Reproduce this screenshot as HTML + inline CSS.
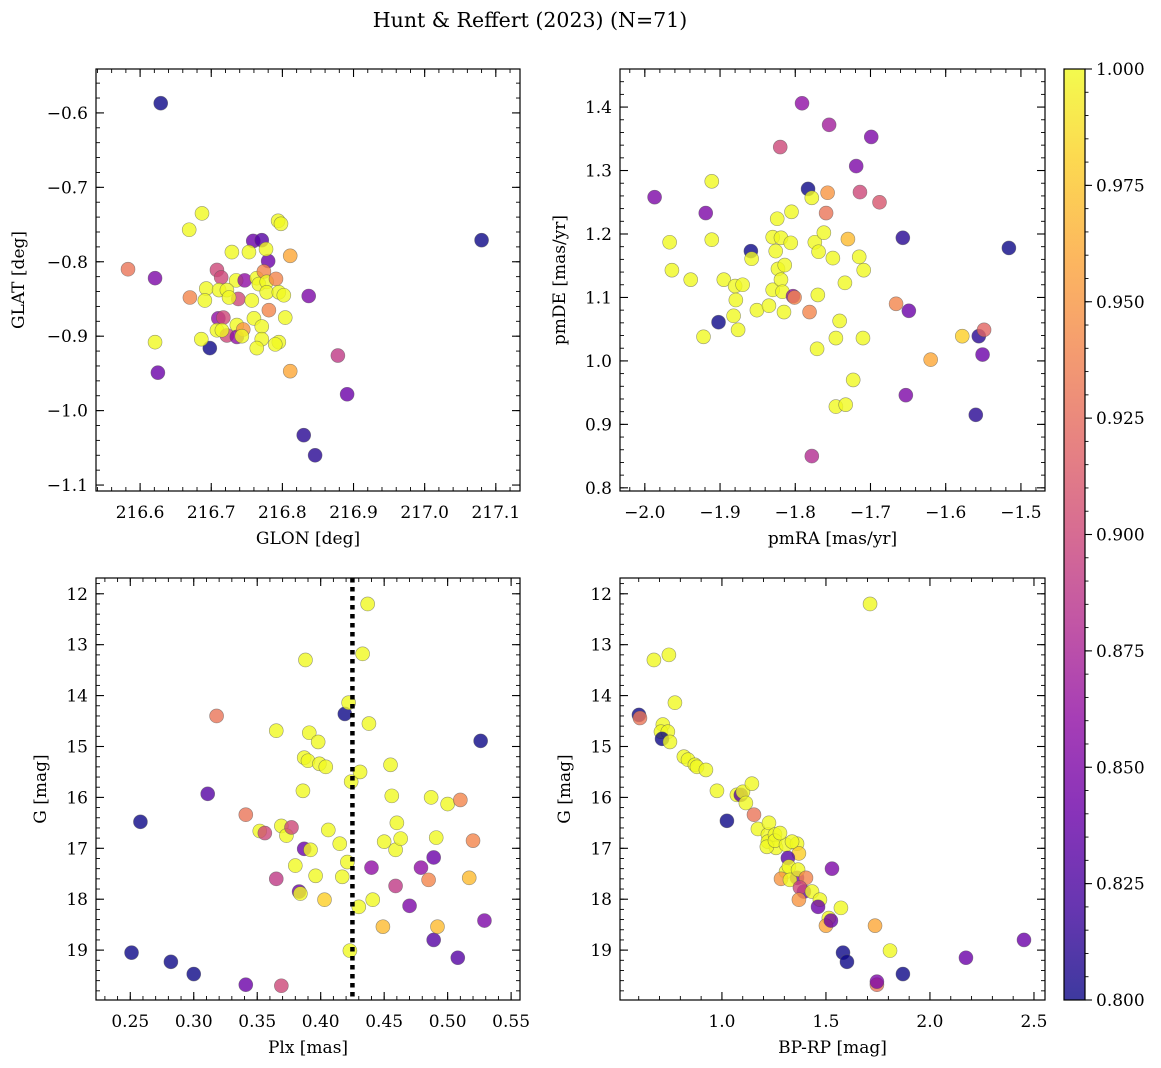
<!DOCTYPE html>
<html><head><meta charset="utf-8">
<style>
html,body{margin:0;padding:0;background:#fff;}
svg{display:block;font-family:"DejaVu Serif","Liberation Serif",serif;}
</style></head>
<body>
<svg id="fig" width="1161" height="1068" viewBox="0 0 1161 1068" xmlns="http://www.w3.org/2000/svg">
<defs>
<linearGradient id="cbgrad" x1="0" y1="1" x2="0" y2="0">
<stop offset="0" stop-color="#0d0887"/><stop offset="0.1" stop-color="#41049d"/><stop offset="0.2" stop-color="#6a00a8"/><stop offset="0.3" stop-color="#8f0da4"/><stop offset="0.4" stop-color="#b12a90"/><stop offset="0.5" stop-color="#cc4778"/><stop offset="0.6" stop-color="#e16462"/><stop offset="0.7" stop-color="#f2844b"/><stop offset="0.8" stop-color="#fca636"/><stop offset="0.9" stop-color="#fcce25"/><stop offset="1" stop-color="#f0f921"/>
</linearGradient>
</defs>
<text x="530" y="27" font-size="20.5" text-anchor="middle">Hunt &amp; Reffert (2023) (N=71)</text>
</svg>
<script>
// ---- Panel 1: GLON vs GLAT ----
const glon=[216.629,217.080,216.583,216.621,216.670,216.621,216.625,216.698,216.669,216.687,216.686,216.830,216.846,216.891,216.878,216.837,216.811,216.811,216.794,216.798,216.759,216.771,216.780,216.777,216.729,216.753,216.708,216.714,216.735,216.747,216.764,216.767,216.774,216.778,216.791,216.693,216.711,216.722,216.691,216.738,216.757,216.778,216.795,216.802,216.781,216.760,216.771,216.804,216.710,216.717,216.708,216.722,216.736,216.736,216.745,216.715,216.743,216.771,216.764,216.795,216.790,216.725];
const glat=[-0.587,-0.771,-0.810,-0.822,-0.848,-0.908,-0.949,-0.916,-0.757,-0.735,-0.904,-1.033,-1.060,-0.978,-0.926,-0.846,-0.947,-0.792,-0.745,-0.749,-0.772,-0.771,-0.799,-0.783,-0.787,-0.787,-0.811,-0.821,-0.825,-0.825,-0.822,-0.830,-0.813,-0.827,-0.823,-0.836,-0.838,-0.838,-0.852,-0.850,-0.852,-0.841,-0.841,-0.845,-0.865,-0.876,-0.887,-0.875,-0.876,-0.875,-0.892,-0.899,-0.885,-0.901,-0.891,-0.892,-0.900,-0.904,-0.916,-0.908,-0.911,-0.848];
const prob1=[0.80,0.80,0.93,0.85,0.94,1.0,0.84,0.80,1.0,1.0,1.0,0.81,0.81,0.84,0.89,0.85,0.96,0.96,1.0,1.0,0.84,0.83,0.84,1.0,1.0,1.0,0.90,0.90,1.0,0.86,1.0,1.0,0.94,1.0,0.94,1.0,1.0,1.0,1.0,0.90,1.0,1.0,1.0,1.0,0.94,1.0,1.0,1.0,0.86,0.90,1.0,0.90,1.0,0.86,0.95,1.0,1.0,1.0,1.0,1.0,1.0,1.0];
// ---- Panel 2: pmRA vs pmDE ----
const pmra=[-1.987,-1.967,-1.964,-1.939,-1.922,-1.911,-1.911,-1.895,-1.919,-1.902,-1.880,-1.879,-1.882,-1.876,-1.870,-1.859,-1.858,-1.851,-1.835,-1.830,-1.830,-1.824,-1.826,-1.823,-1.819,-1.817,-1.815,-1.820,-1.819,-1.814,-1.806,-1.805,-1.803,-1.801,-1.791,-1.783,-1.778,-1.781,-1.778,-1.774,-1.770,-1.771,-1.769,-1.762,-1.759,-1.757,-1.755,-1.750,-1.746,-1.746,-1.741,-1.734,-1.733,-1.730,-1.723,-1.719,-1.715,-1.714,-1.710,-1.709,-1.699,-1.688,-1.666,-1.657,-1.653,-1.649,-1.620,-1.578,-1.560,-1.556,-1.551,-1.549,-1.516];
const pmde=[1.258,1.187,1.143,1.128,1.038,1.283,1.191,1.128,1.233,1.061,1.118,1.096,1.071,1.049,1.120,1.173,1.161,1.080,1.087,1.112,1.195,1.224,1.173,1.145,1.128,1.109,1.077,1.337,1.194,1.151,1.186,1.235,1.102,1.100,1.406,1.271,1.257,1.077,0.850,1.187,1.104,1.019,1.172,1.202,1.233,1.265,1.372,1.162,1.036,0.928,1.063,1.123,0.931,1.192,0.970,1.307,1.164,1.266,1.036,1.143,1.353,1.250,1.090,1.194,0.946,1.079,1.002,1.039,0.915,1.039,1.010,1.049,1.178];
const prob2=[0.85,1.0,1.0,1.0,1.0,1.0,1.0,1.0,0.85,0.80,1.0,1.0,1.0,1.0,1.0,0.80,1.0,1.0,1.0,1.0,1.0,1.0,1.0,1.0,1.0,1.0,1.0,0.90,1.0,1.0,1.0,1.0,0.86,0.94,0.86,0.80,1.0,0.94,0.88,1.0,1.0,1.0,1.0,1.0,0.93,0.95,0.87,1.0,1.0,1.0,1.0,1.0,1.0,0.97,1.0,0.85,1.0,0.90,1.0,1.0,0.85,0.91,0.94,0.81,0.85,0.84,0.96,0.98,0.81,0.81,0.84,0.92,0.80];
// ---- Panel 3: Plx vs G ----
const plx=[0.251,0.258,0.282,0.300,0.311,0.318,0.341,0.341,0.352,0.356,0.365,0.365,0.369,0.369,0.373,0.377,0.380,0.383,0.384,0.386,0.387,0.387,0.388,0.390,0.391,0.392,0.396,0.398,0.399,0.404,0.403,0.406,0.415,0.417,0.419,0.421,0.423,0.422,0.424,0.430,0.431,0.433,0.437,0.438,0.440,0.441,0.449,0.450,0.455,0.456,0.459,0.460,0.459,0.463,0.470,0.479,0.485,0.487,0.489,0.489,0.491,0.492,0.500,0.510,0.508,0.517,0.520,0.526,0.529];
const gmag3=[19.05,16.48,19.23,19.47,15.93,14.40,19.68,16.34,16.66,16.70,17.60,14.69,19.70,16.56,16.75,16.59,17.34,17.85,17.89,15.87,17.01,15.22,13.30,15.28,14.73,17.03,17.54,14.91,15.34,15.40,18.01,16.64,16.91,17.56,14.36,17.27,19.01,14.14,15.69,18.15,15.50,13.18,12.20,14.55,17.38,18.01,18.54,16.87,15.36,15.97,17.03,16.50,17.74,16.81,18.13,17.38,17.62,16.00,17.18,18.80,16.79,18.54,16.13,16.05,19.15,17.58,16.85,14.89,18.42];
const prob3=[0.80,0.80,0.80,0.80,0.83,0.93,0.84,0.93,1.0,0.90,0.89,1.0,0.90,1.0,1.0,0.90,1.0,0.84,1.0,1.0,0.84,1.0,1.0,1.0,1.0,1.0,1.0,1.0,1.0,1.0,0.98,1.0,1.0,1.0,0.80,1.0,1.0,1.0,1.0,1.0,1.0,1.0,1.0,1.0,0.86,1.0,0.97,1.0,1.0,1.0,1.0,1.0,0.89,1.0,0.85,0.86,0.94,1.0,0.84,0.83,1.0,0.97,1.0,0.94,0.83,0.97,0.94,0.80,0.85];
// ---- Panel 4: BP-RP vs G ----
const bprp=[0.601,0.606,0.673,0.745,0.716,0.707,0.740,0.712,0.750,0.774,0.817,0.837,0.870,0.880,0.923,0.976,1.072,1.091,1.101,1.115,1.024,1.144,1.154,1.173,1.221,1.226,1.221,1.255,1.260,1.216,1.255,1.308,1.361,1.370,1.279,1.337,1.317,1.308,1.322,1.361,1.284,1.327,1.366,1.404,1.394,1.375,1.370,1.433,1.471,1.462,1.529,1.514,1.500,1.524,1.572,1.582,1.601,1.736,1.745,1.745,1.712,1.808,1.870,2.173,2.452];
const gmag4=[14.38,14.44,13.30,13.20,14.57,14.71,14.71,14.85,14.91,14.14,15.20,15.26,15.36,15.40,15.46,15.87,15.95,15.95,15.89,16.11,16.46,15.73,16.34,16.62,16.73,16.50,16.87,16.73,16.99,16.97,16.85,16.93,16.91,17.10,16.70,16.87,17.19,17.46,17.36,17.58,17.60,17.62,17.42,17.58,17.85,17.77,18.01,17.85,18.01,18.15,17.40,18.37,18.52,18.42,18.17,19.05,19.23,18.52,19.68,19.62,12.20,19.01,19.47,19.15,18.80];
const prob4=[0.80,0.93,1.0,1.0,1.0,1.0,1.0,0.80,1.0,1.0,1.0,1.0,1.0,1.0,1.0,1.0,1.0,0.83,1.0,1.0,0.80,1.0,0.93,1.0,1.0,1.0,1.0,1.0,1.0,1.0,1.0,1.0,1.0,0.98,1.0,1.0,0.83,1.0,1.0,0.85,0.95,1.0,1.0,0.94,0.84,0.90,0.95,1.0,1.0,0.84,0.85,1.0,0.96,0.84,1.0,0.80,0.80,0.96,0.93,0.85,1.0,1.0,0.80,0.84,0.84];
// ---- tick labels ----
const ticks1x=[216.6,216.7,216.8,216.9,217.0,217.1];
const ticks1y=[-0.6,-0.7,-0.8,-0.9,-1.0,-1.1];
const ticks2x=[-2.0,-1.9,-1.8,-1.7,-1.6,-1.5];
const ticks2y=[0.8,0.9,1.0,1.1,1.2,1.3,1.4];
const ticks3x=[0.25,0.30,0.35,0.40,0.45,0.50,0.55];
const ticksG=[12,13,14,15,16,17,18,19];
const ticks4x=[1.0,1.5,2.0,2.5];
const ticksCb=[0.800,0.825,0.850,0.875,0.900,0.925,0.950,0.975,1.000];
const plxCut=0.425;

const NS="http://www.w3.org/2000/svg";
const svg=document.getElementById('fig');
function mk(tag,attrs,parent){const e=document.createElementNS(NS,tag);for(const k in attrs)e.setAttribute(k,attrs[k]);(parent||svg).appendChild(e);return e;}
const stops=[[13,8,135],[65,4,157],[106,0,168],[143,13,164],[177,42,144],[204,71,120],[225,100,98],[242,132,75],[252,166,54],[252,206,37],[240,249,33]];
function plasma(t){t=Math.max(0,Math.min(1,t));const f=t*10,i=Math.min(9,Math.floor(f)),r=f-i;const a=stops[i],b=stops[i+1];return 'rgb('+a.map((v,k)=>Math.round(v+(b[k]-v)*r)).join(',')+')';}
function pcol(p){return plasma((p-0.8)/0.2);}
function fmt(v,d){return v.toFixed(d).replace('-','\u2212');}

function panel(o){
  const g=mk('g',{});
  
  
  const sx=v=>o.x0+(v-o.xmin)/(o.xmax-o.xmin)*(o.x1-o.x0);
  const sy=v=>o.y1-(v-o.ymin)/(o.ymax-o.ymin)*(o.y1-o.y0);
  const pg=mk('g',{},g);
  
  
  o.xs.forEach((xv,i)=>{
    const c=mk('circle',{cx:sx(xv),cy:sy(o.ys[i]),r:7,fill:pcol(o.ps[i]),'fill-opacity':0.8,stroke:'#555','stroke-opacity':0.6,'stroke-width':0.6},pg);
    
    
  });
  if(o.vline!==undefined){
    const l=mk('line',{x1:sx(o.vline),x2:sx(o.vline),y1:o.y0,y2:o.y1,stroke:'#000','stroke-width':4.5,'stroke-dasharray':'4.5,4.5'},g);
    
    
  }
  const fr=mk('rect',{x:o.x0,y:o.y0,width:o.x1-o.x0,height:o.y1-o.y0,fill:'none',stroke:'#000','stroke-width':1.2},g);
  
  
  const minorX=[];for(let v=Math.ceil(o.xmin/o.xmin_step)*o.xmin_step;v<=o.xmax+1e-9;v+=o.xmin_step)minorX.push(v);
  minorX.forEach(v=>{const X=sx(v);mk('line',{x1:X,x2:X,y1:o.y1,y2:o.y1-4,stroke:'#000','stroke-width':0.9},g);mk('line',{x1:X,x2:X,y1:o.y0,y2:o.y0+4,stroke:'#000','stroke-width':0.9},g);});
  o.xt.forEach(v=>{const X=sx(v);mk('line',{x1:X,x2:X,y1:o.y1,y2:o.y1-8,stroke:'#000','stroke-width':1.1},g);mk('line',{x1:X,x2:X,y1:o.y0,y2:o.y0+8,stroke:'#000','stroke-width':1.1},g);
    const t=mk('text',{x:X,y:o.y1+27,'font-size':17,'text-anchor':'middle'},g);t.textContent=fmt(v,o.xd);
    
    });
  const minorY=[];for(let v=Math.ceil(o.ymin/o.ymin_step)*o.ymin_step;v<=o.ymax+1e-9;v+=o.ymin_step)minorY.push(v);
  minorY.forEach(v=>{const Y=sy(v);mk('line',{x1:o.x0,x2:o.x0+4,y1:Y,y2:Y,stroke:'#000','stroke-width':0.9},g);mk('line',{x1:o.x1,x2:o.x1-4,y1:Y,y2:Y,stroke:'#000','stroke-width':0.9},g);});
  o.yt.forEach(v=>{const Y=sy(v);mk('line',{x1:o.x0,x2:o.x0+8,y1:Y,y2:Y,stroke:'#000','stroke-width':1.1},g);mk('line',{x1:o.x1,x2:o.x1-8,y1:Y,y2:Y,stroke:'#000','stroke-width':1.1},g);
    const t=mk('text',{x:o.x0-8,y:Y+6,'font-size':17,'text-anchor':'end'},g);t.textContent=fmt(v,o.yd);
    
    });
  const xl=mk('text',{x:(o.x0+o.x1)/2,y:o.y1+53,'font-size':17,'text-anchor':'middle'},g);xl.textContent=o.xlab;
  
  
  const yx=o.ylx,yy=(o.y0+o.y1)/2;
  const yl=mk('text',{x:yx,y:yy,'font-size':17,'text-anchor':'middle',transform:'rotate(-90 '+yx+' '+yy+')'},g);yl.textContent=o.ylab;
  
  
}
panel({name:'glon-glat-panel',x0:96,x1:520,y0:69,y1:491,xmin:216.538,xmax:217.134,ymin:-1.108,ymax:-0.541,xmin_step:0.02,ymin_step:0.02,xt:ticks1x,yt:ticks1y,xd:1,yd:1,xs:glon,ys:glat,ps:prob1,xlab:'GLON [deg]',ylab:'GLAT [deg]',ylx:24});
panel({name:'pm-panel',x0:620,x1:1045,y0:69,y1:491,xmin:-2.033,xmax:-1.468,ymin:0.795,ymax:1.46,xmin_step:0.02,ymin_step:0.02,xt:ticks2x,yt:ticks2y,xd:1,yd:1,xs:pmra,ys:pmde,ps:prob2,xlab:'pmRA [mas/yr]',ylab:'pmDE [mas/yr]',ylx:565});
panel({name:'plx-g-panel',x0:96,x1:520,y0:578,y1:1000,xmin:0.223,xmax:0.557,ymin:-19.98,ymax:-11.69,xmin_step:0.01,ymin_step:0.2,xt:ticks3x,yt:ticksG.map(v=>-v),xd:2,yd:0,xs:plx,ys:gmag3.map(v=>-v),ps:prob3,xlab:'Plx [mas]',ylab:'G [mag]',ylx:46,vline:plxCut});
panel({name:'cmd-panel',x0:620,x1:1045,y0:578,y1:1000,xmin:0.51,xmax:2.553,ymin:-19.98,ymax:-11.69,xmin_step:0.1,ymin_step:0.2,xt:ticks4x,yt:ticksG.map(v=>-v),xd:1,yd:0,xs:bprp,ys:gmag4.map(v=>-v),ps:prob4,xlab:'BP-RP [mag]',ylab:'G [mag]',ylx:570});
document.querySelectorAll('text').forEach(t=>{if(/^\u2212\d\d$/.test(t.textContent))t.textContent=t.textContent.slice(1);});
// colorbar
const cb=mk('g',{});


const cbx0=1064,cbx1=1085,cby0=69,cby1=1000;
const cbr=mk('rect',{x:cbx0,y:cby0,width:cbx1-cbx0,height:cby1-cby0,fill:'url(#cbgrad)','fill-opacity':0.8},cb);


mk('rect',{x:cbx0,y:cby0,width:cbx1-cbx0,height:cby1-cby0,fill:'none',stroke:'#000','stroke-width':1.2},cb);
const cby=v=>cby1-(v-0.8)/0.2*(cby1-cby0);
for(let v=0.8;v<=1.0001;v+=0.005){const Y=cby(v);mk('line',{x1:cbx1,x2:cbx1+3.5,y1:Y,y2:Y,stroke:'#000','stroke-width':0.9},cb);}
ticksCb.forEach(v=>{const Y=cby(v);mk('line',{x1:cbx1,x2:cbx1+7,y1:Y,y2:Y,stroke:'#000','stroke-width':1.1},cb);
  const t=mk('text',{x:cbx1+11,y:Y+6,'font-size':17},cb);t.textContent=v.toFixed(3);
  
  });
</script>
</body></html>
